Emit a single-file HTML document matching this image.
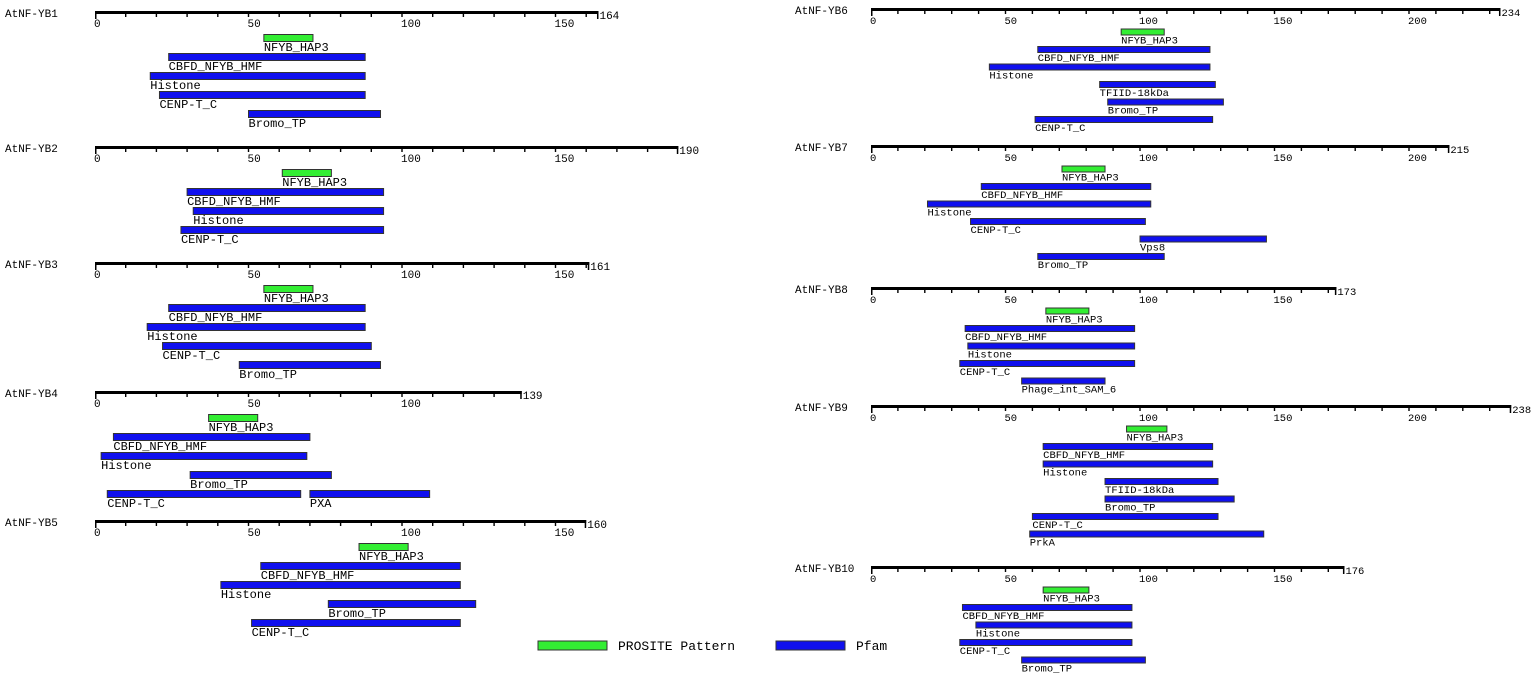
<!DOCTYPE html>
<html><head><meta charset="utf-8"><style>
html,body{margin:0;padding:0;background:#fff;}
svg text{font-family:"Liberation Mono","DejaVu Sans Mono",monospace;fill:#000;}
</style></head><body>
<svg id="chart" width="1535" height="679" viewBox="0 0 1535 679" xmlns="http://www.w3.org/2000/svg"></svg>
<script>
const proteinNames = ["AtNF-YB1","AtNF-YB2","AtNF-YB3","AtNF-YB4","AtNF-YB5","AtNF-YB6","AtNF-YB7","AtNF-YB8","AtNF-YB9","AtNF-YB10"];
const proteinLengths = [164,190,161,139,160,234,215,173,238,176];
const proteinColumn = [0,0,0,0,0,1,1,1,1,1];
// domains per protein: [name, start, end, row, type] type 0 = PROSITE, 1 = Pfam
const domainsYB1 = [["NFYB_HAP3",55,71,0,0],["CBFD_NFYB_HMF",24,88,1,1],["Histone",18,88,2,1],["CENP-T_C",21,88,3,1],["Bromo_TP",50,93,4,1]];
const domainsYB2 = [["NFYB_HAP3",61,77,0,0],["CBFD_NFYB_HMF",30,94,1,1],["Histone",32,94,2,1],["CENP-T_C",28,94,3,1]];
const domainsYB3 = [["NFYB_HAP3",55,71,0,0],["CBFD_NFYB_HMF",24,88,1,1],["Histone",17,88,2,1],["CENP-T_C",22,90,3,1],["Bromo_TP",47,93,4,1]];
const domainsYB4 = [["NFYB_HAP3",37,53,0,0],["CBFD_NFYB_HMF",6,70,1,1],["Histone",2,69,2,1],["Bromo_TP",31,77,3,1],["CENP-T_C",4,67,4,1],["PXA",70,109,4,1]];
const domainsYB5 = [["NFYB_HAP3",86,102,0,0],["CBFD_NFYB_HMF",54,119,1,1],["Histone",41,119,2,1],["Bromo_TP",76,124,3,1],["CENP-T_C",51,119,4,1]];
const domainsYB6 = [["NFYB_HAP3",93,109,0,0],["CBFD_NFYB_HMF",62,126,1,1],["Histone",44,126,2,1],["TFIID-18kDa",85,128,3,1],["Bromo_TP",88,131,4,1],["CENP-T_C",61,127,5,1]];
const domainsYB7 = [["NFYB_HAP3",71,87,0,0],["CBFD_NFYB_HMF",41,104,1,1],["Histone",21,104,2,1],["CENP-T_C",37,102,3,1],["Vps8",100,147,4,1],["Bromo_TP",62,109,5,1]];
const domainsYB8 = [["NFYB_HAP3",65,81,0,0],["CBFD_NFYB_HMF",35,98,1,1],["Histone",36,98,2,1],["CENP-T_C",33,98,3,1],["Phage_int_SAM_6",56,87,4,1]];
const domainsYB9 = [["NFYB_HAP3",95,110,0,0],["CBFD_NFYB_HMF",64,127,1,1],["Histone",64,127,2,1],["TFIID-18kDa",87,129,3,1],["Bromo_TP",87,135,4,1],["CENP-T_C",60,129,5,1],["PrkA",59,146,6,1]];
const domainsYB10 = [["NFYB_HAP3",64,81,0,0],["CBFD_NFYB_HMF",34,97,1,1],["Histone",39,97,2,1],["CENP-T_C",33,97,3,1],["Bromo_TP",56,102,4,1]];
const allDomains = [domainsYB1,domainsYB2,domainsYB3,domainsYB4,domainsYB5,domainsYB6,domainsYB7,domainsYB8,domainsYB9,domainsYB10];
const legendLabels = ["PROSITE Pattern","Pfam"];

const NS="http://www.w3.org/2000/svg";
const svg=document.getElementById('chart');
const axisY=[13,148,264,393,522,10,147,289,407,568];
const colCfg=[{x0:95,scale:3.07,nameX:5,offset:25,gap:19,bh:7,fs:12,lab:13,tfs:11},{x0:871,scale:2.69,nameX:795,offset:22,gap:17.5,bh:6,fs:10.5,lab:11.5,tfs:10.5}];
const fills=["#33ee33","#1010ee"];
function mk(tag,attrs,parent){const e=document.createElementNS(NS,tag);for(const k in attrs)e.setAttribute(k,attrs[k]);(parent||svg).appendChild(e);return e;}
proteinNames.forEach((nm,i)=>{
  const c=colCfg[proteinColumn[i]];const y=axisY[i];
  const xs=v=>c.x0+v*c.scale;
  const g=mk('g',{});
  
  
  const t=mk('text',{x:c.nameX,y:y+4,'font-size':'11'},g);t.textContent=nm;
  
  
  const L=proteinLengths[i];
  const ax=mk('rect',{x:xs(0),y:y-2,width:xs(L)-xs(0),height:3,fill:'#000'},g);
  
  
  mk('rect',{x:xs(0),y:y-2,width:1.5,height:8,fill:'#000'},g);
  mk('rect',{x:xs(L)-1.5,y:y-2,width:1.5,height:8,fill:'#000'},g);
  for(let v=10;v<L;v+=10){mk('rect',{x:xs(v)-0.7,y:y,width:1.4,height:4,fill:'#000'},g);}
  for(let v=0;v<L-5;v+=50){const tl=mk('text',{x:xs(v)-1,y:y+14,'font-size':c.tfs},g);tl.textContent=v;
    
    }
  const lt=mk('text',{x:xs(L)+1,y:y+6,'font-size':c.tfs},g);lt.textContent=L;
  
  
  allDomains[i].forEach(d=>{
    const by=y+c.offset+d[3]*c.gap;
    const r=mk('rect',{x:xs(d[1]),y:by-c.bh/2,width:xs(d[2])-xs(d[1]),height:c.bh,fill:fills[d[4]],stroke:'#333',"stroke-width":1},g);
    
    
    const dl=mk('text',{x:xs(d[1]),y:by+c.lab,'font-size':c.fs},g);dl.textContent=d[0];
    
    
  });
});
const lg=mk('g',{});


[[538,618],[776,856]].forEach((p,k)=>{
  const r=mk('rect',{x:p[0],y:641,width:69,height:9,fill:fills[k],stroke:'#333'},lg);
  
  
  const t=mk('text',{x:p[1],y:650,'font-size':'13'},lg);t.textContent=legendLabels[k];
  
  
});
</script>
</body></html>
